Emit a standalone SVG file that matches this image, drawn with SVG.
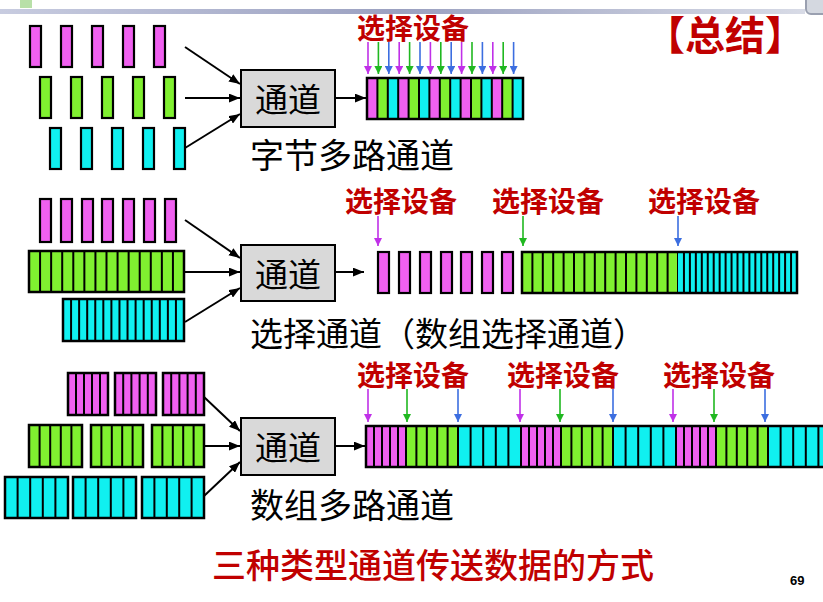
<svg xmlns="http://www.w3.org/2000/svg" width="823" height="602" viewBox="0 0 823 602">
<defs>
<linearGradient id="bar" x1="0" y1="0" x2="1" y2="0">
<stop offset="0" stop-color="#c8cce0"/><stop offset="0.5" stop-color="#9aa0c0"/><stop offset="1" stop-color="#d8dbe6"/>
</linearGradient>
<marker id="ah" viewBox="0 0 10 8" refX="10" refY="4" markerWidth="11" markerHeight="9" markerUnits="userSpaceOnUse" orient="auto"><path d="M0,0 L10,4 L0,8 z" fill="#000"/></marker>
<marker id="amg" viewBox="0 0 8 8" refX="8" refY="4" markerWidth="9" markerHeight="8" markerUnits="userSpaceOnUse" orient="auto"><path d="M0,0 L8,4 L0,8 z" fill="#c030e8"/></marker>
<marker id="agr" viewBox="0 0 8 8" refX="8" refY="4" markerWidth="9" markerHeight="8" markerUnits="userSpaceOnUse" orient="auto"><path d="M0,0 L8,4 L0,8 z" fill="#20b820"/></marker>
<marker id="abl" viewBox="0 0 8 8" refX="8" refY="4" markerWidth="9" markerHeight="8" markerUnits="userSpaceOnUse" orient="auto"><path d="M0,0 L8,4 L0,8 z" fill="#3c6ee0"/></marker>
</defs>
<style>
.m{fill:#f060f0}
.g{fill:#80f030}
.c{fill:#10f0f0}
.bar{stroke:#000;stroke-width:2.2}
.div{stroke:#000;stroke-width:2;fill:none}
.out{fill:none;stroke:#000;stroke-width:2.5}
.box{fill:#d9d9d9;stroke:#000;stroke-width:2}
.con{stroke:#000;stroke-width:2;fill:none;marker-end:url(#ah)}
.pm{stroke:#c030e8;stroke-width:1.6;marker-end:url(#amg)}
.pg{stroke:#20b820;stroke-width:1.6;marker-end:url(#agr)}
.pb{stroke:#3c6ee0;stroke-width:1.6;marker-end:url(#abl)}
.red{font-family:"Noto Sans CJK SC","Noto Sans CJK JP",sans-serif;font-weight:bold;fill:#c00000;font-size:28px}
.lbl{font-family:"Noto Sans CJK SC","Noto Sans CJK JP",sans-serif;fill:#000;font-size:34px}
.bt{font-family:"Noto Sans CJK SC","Noto Sans CJK JP",sans-serif;fill:#000;font-size:33px;text-anchor:middle}
</style>
<rect width="823" height="602" fill="#fff"/>
<!-- top decoration -->
<rect x="0" y="9" width="805" height="5" fill="url(#bar)"/>
<rect x="20" y="0" width="12" height="8" fill="#b8e0a8"/>
<rect x="806" y="-6" width="22" height="20" rx="5" fill="#d4d8e0" stroke="#9aa0b0" stroke-width="2"/>

<text class="red" x="725" y="50" style="font-size:40px;text-anchor:middle">【总结】</text>

<!-- Row 1: byte multiplexer -->
<g id="row1-inputs">
<rect class="m bar" x="30" y="26" width="11" height="41"/><rect class="m bar" x="61" y="26" width="11" height="41"/><rect class="m bar" x="92" y="26" width="11" height="41"/><rect class="m bar" x="123" y="26" width="11" height="41"/><rect class="m bar" x="154" y="26" width="11" height="41"/>
<rect class="g bar" x="40" y="77" width="11" height="41"/><rect class="g bar" x="71" y="77" width="11" height="41"/><rect class="g bar" x="102" y="77" width="11" height="41"/><rect class="g bar" x="133" y="77" width="11" height="41"/><rect class="g bar" x="164" y="77" width="11" height="41"/>
<rect class="c bar" x="50" y="128" width="11" height="41"/><rect class="c bar" x="81" y="128" width="11" height="41"/><rect class="c bar" x="112" y="128" width="11" height="41"/><rect class="c bar" x="143" y="128" width="11" height="41"/><rect class="c bar" x="174" y="128" width="11" height="41"/>
</g>
<g id="row1-channel">
<rect class="box" x="241" y="70" width="94" height="57"/>
<text class="bt" x="288" y="112">通道</text>
</g>
<g id="row1-output">
<rect class="m" x="367" y="78" width="10.4" height="41"/><rect class="g" x="377.4" y="78" width="10.4" height="41"/><rect class="c" x="387.8" y="78" width="10.4" height="41"/>
<rect class="m" x="398.2" y="78" width="10.4" height="41"/><rect class="g" x="408.6" y="78" width="10.4" height="41"/><rect class="c" x="419" y="78" width="10.4" height="41"/>
<rect class="m" x="429.4" y="78" width="10.4" height="41"/><rect class="g" x="439.8" y="78" width="10.4" height="41"/><rect class="c" x="450.2" y="78" width="10.4" height="41"/>
<rect class="m" x="460.6" y="78" width="10.4" height="41"/><rect class="g" x="471" y="78" width="10.4" height="41"/><rect class="c" x="481.4" y="78" width="10.4" height="41"/>
<rect class="m" x="491.8" y="78" width="10.4" height="41"/><rect class="g" x="502.2" y="78" width="10.4" height="41"/><rect class="c" x="512.6" y="78" width="10.4" height="41"/>
<path class="div" d="M377.4 78V119M387.8 78V119M398.2 78V119M408.6 78V119M419 78V119M429.4 78V119M439.8 78V119M450.2 78V119M460.6 78V119M471 78V119M481.4 78V119M491.8 78V119M502.2 78V119M512.6 78V119"/>
<rect class="out" x="367" y="78" width="156" height="41"/>
</g>
<text class="red" x="357" y="39">选择设备</text>
<g id="row1-pointers">
<line class="pm" x1="368" y1="42" x2="368" y2="74"/><line class="pg" x1="378.4" y1="42" x2="378.4" y2="74"/><line class="pb" x1="388.8" y1="42" x2="388.8" y2="74"/>
<line class="pm" x1="399.2" y1="42" x2="399.2" y2="74"/><line class="pg" x1="409.6" y1="42" x2="409.6" y2="74"/><line class="pb" x1="420" y1="42" x2="420" y2="74"/>
<line class="pm" x1="430.4" y1="42" x2="430.4" y2="74"/><line class="pg" x1="440.8" y1="42" x2="440.8" y2="74"/><line class="pb" x1="451.2" y1="42" x2="451.2" y2="74"/>
<line class="pm" x1="461.6" y1="42" x2="461.6" y2="74"/><line class="pg" x1="472" y1="42" x2="472" y2="74"/><line class="pb" x1="482.4" y1="42" x2="482.4" y2="74"/>
<line class="pm" x1="492.8" y1="42" x2="492.8" y2="74"/><line class="pg" x1="503.2" y1="42" x2="503.2" y2="74"/><line class="pb" x1="513.6" y1="42" x2="513.6" y2="74"/>
</g>
<text class="lbl" x="250" y="168">字节多路通道</text>

<!-- Row 2: selector channel -->
<g id="row2-inputs">
<rect class="m bar" x="40" y="199" width="11" height="43"/><rect class="m bar" x="61" y="199" width="11" height="43"/><rect class="m bar" x="82" y="199" width="11" height="43"/><rect class="m bar" x="102" y="199" width="11" height="43"/><rect class="m bar" x="123" y="199" width="11" height="43"/><rect class="m bar" x="144" y="199" width="11" height="43"/><rect class="m bar" x="165" y="199" width="11" height="43"/>
<rect class="g" x="29" y="251" width="155" height="41"/>
<path class="div" d="M40.07 251V292M51.14 251V292M62.21 251V292M73.29 251V292M84.36 251V292M95.43 251V292M106.5 251V292M117.57 251V292M128.64 251V292M139.71 251V292M150.79 251V292M161.86 251V292M172.93 251V292"/>
<rect class="out" x="29" y="251" width="155" height="41"/>
<rect class="c" x="63" y="299" width="121" height="42"/>
<path class="div" d="M71.07 299V341M79.13 299V341M87.2 299V341M95.27 299V341M103.33 299V341M111.4 299V341M119.47 299V341M127.53 299V341M135.6 299V341M143.67 299V341M151.73 299V341M159.8 299V341M167.87 299V341M175.93 299V341"/>
<rect class="out" x="63" y="299" width="121" height="42"/>
</g>
<g id="row2-channel">
<rect class="box" x="241" y="245" width="94" height="56"/>
<text class="bt" x="288" y="287">通道</text>
</g>
<g id="row2-output">
<rect class="m bar" x="378" y="252" width="11" height="41"/><rect class="m bar" x="399" y="252" width="11" height="41"/><rect class="m bar" x="420" y="252" width="11" height="41"/><rect class="m bar" x="441" y="252" width="11" height="41"/><rect class="m bar" x="461" y="252" width="11" height="41"/><rect class="m bar" x="482" y="252" width="11" height="41"/><rect class="m bar" x="502" y="252" width="11" height="41"/>
<rect class="g" x="522" y="252" width="156" height="41"/>
<path class="div" d="M532.4 252V293M542.8 252V293M553.2 252V293M563.6 252V293M574 252V293M584.4 252V293M594.8 252V293M605.2 252V293M615.6 252V293M626 252V293M636.4 252V293M646.8 252V293M657.2 252V293M667.6 252V293M678 252V293"/>
<rect class="c" x="678" y="252" width="119" height="41"/>
<path class="div" d="M683.95 252V293M689.9 252V293M695.85 252V293M701.8 252V293M707.75 252V293M713.7 252V293M719.65 252V293M725.6 252V293M731.55 252V293M737.5 252V293M743.45 252V293M749.4 252V293M755.35 252V293M761.3 252V293M767.25 252V293M773.2 252V293M779.15 252V293M785.1 252V293M791.05 252V293"/>
<rect class="out" x="522" y="252" width="275" height="41"/>
</g>
<text class="red" x="345" y="212">选择设备</text>
<text class="red" x="492" y="212">选择设备</text>
<text class="red" x="648" y="212">选择设备</text>
<g id="row2-pointers">
<line class="pm" x1="378" y1="216" x2="378" y2="246"/>
<line class="pg" x1="523" y1="216" x2="523" y2="246"/>
<line class="pb" x1="678" y1="216" x2="678" y2="246"/>
</g>
<text class="lbl" x="250" y="346" style="font-size:33px">选择通道（数组选择通道）</text>

<!-- Row 3: block multiplexer -->
<g id="row3-inputs">
<rect class="m" x="68" y="373" width="40" height="42"/><rect class="m" x="115" y="373" width="41" height="42"/><rect class="m" x="163" y="373" width="41" height="42"/>
<path class="div" d="M76 373V415M84 373V415M92 373V415M100 373V415M123.2 373V415M131.4 373V415M139.6 373V415M147.8 373V415M171.2 373V415M179.4 373V415M187.6 373V415M195.8 373V415"/>
<rect class="out" x="68" y="373" width="40" height="42"/><rect class="out" x="115" y="373" width="41" height="42"/><rect class="out" x="163" y="373" width="41" height="42"/>
<rect class="g" x="29" y="425" width="53" height="42"/><rect class="g" x="91" y="425" width="52" height="42"/><rect class="g" x="152" y="425" width="52" height="42"/>
<path class="div" d="M39.6 425V467M50.2 425V467M60.8 425V467M71.4 425V467M101.4 425V467M111.8 425V467M122.2 425V467M132.6 425V467M162.4 425V467M172.8 425V467M183.2 425V467M193.6 425V467"/>
<rect class="out" x="29" y="425" width="53" height="42"/><rect class="out" x="91" y="425" width="52" height="42"/><rect class="out" x="152" y="425" width="52" height="42"/>
<rect class="c" x="5" y="477" width="63" height="41"/><rect class="c" x="73" y="477" width="63" height="41"/><rect class="c" x="142" y="477" width="62" height="41"/>
<path class="div" d="M17.6 477V518M30.2 477V518M42.8 477V518M55.4 477V518M85.6 477V518M98.2 477V518M110.8 477V518M123.4 477V518M154.4 477V518M166.8 477V518M179.2 477V518M191.6 477V518"/>
<rect class="out" x="5" y="477" width="63" height="41"/><rect class="out" x="73" y="477" width="63" height="41"/><rect class="out" x="142" y="477" width="62" height="41"/>
</g>
<g id="row3-channel">
<rect class="box" x="241" y="418" width="94" height="57"/>
<text class="bt" x="288" y="460">通道</text>
</g>
<g id="row3-output">
<rect class="m" x="366" y="426" width="40" height="41"/><rect class="g" x="406" y="426" width="52" height="41"/><rect class="c" x="458" y="426" width="63" height="41"/>
<rect class="m" x="521" y="426" width="40" height="41"/><rect class="g" x="561" y="426" width="52" height="41"/><rect class="c" x="613" y="426" width="63" height="41"/>
<rect class="m" x="676" y="426" width="40" height="41"/><rect class="g" x="716" y="426" width="52" height="41"/><rect class="c" x="768" y="426" width="63" height="41"/>
<path class="div" d="M374 426V467M382 426V467M390 426V467M398 426V467M406 426V467M416.4 426V467M426.8 426V467M437.2 426V467M447.6 426V467M458 426V467M470.6 426V467M483.2 426V467M495.8 426V467M508.4 426V467M521 426V467M529 426V467M537 426V467M545 426V467M553 426V467M561 426V467M571.4 426V467M581.8 426V467M592.2 426V467M602.6 426V467M613 426V467M625.6 426V467M638.2 426V467M650.8 426V467M663.4 426V467M676 426V467M684 426V467M692 426V467M700 426V467M708 426V467M716 426V467M726.4 426V467M736.8 426V467M747.2 426V467M757.6 426V467M768 426V467M780.6 426V467M793.2 426V467M805.8 426V467M818.4 426V467"/>
<rect class="out" x="366" y="426" width="470" height="41"/>
</g>
<text class="red" x="357" y="386">选择设备</text>
<text class="red" x="507" y="386">选择设备</text>
<text class="red" x="663" y="386">选择设备</text>
<g id="row3-pointers">
<line class="pm" x1="368" y1="389" x2="368" y2="422"/><line class="pg" x1="407" y1="389" x2="407" y2="422"/><line class="pb" x1="458" y1="389" x2="458" y2="422"/>
<line class="pm" x1="520" y1="389" x2="520" y2="422"/><line class="pg" x1="560" y1="389" x2="560" y2="422"/><line class="pb" x1="613" y1="389" x2="613" y2="422"/>
<line class="pm" x1="673" y1="389" x2="673" y2="422"/><line class="pg" x1="714" y1="389" x2="714" y2="422"/><line class="pb" x1="765" y1="389" x2="765" y2="422"/>
</g>
<text class="lbl" x="250" y="518">数组多路通道</text>

<!-- connectors -->
<g id="connectors">
<line class="con" x1="185" y1="47" x2="240" y2="84"/>
<line class="con" x1="185" y1="98" x2="240" y2="98"/>
<line class="con" x1="185" y1="148" x2="240" y2="114"/>
<line class="con" x1="336" y1="98" x2="366" y2="98"/>
<line class="con" x1="185" y1="220" x2="240" y2="258"/>
<line class="con" x1="185" y1="272" x2="240" y2="272"/>
<line class="con" x1="185" y1="322" x2="240" y2="288"/>
<line class="con" x1="336" y1="272" x2="364" y2="272"/>
<line class="con" x1="204" y1="397" x2="240" y2="431"/>
<line class="con" x1="204" y1="446" x2="240" y2="446"/>
<line class="con" x1="204" y1="496" x2="240" y2="462"/>
<line class="con" x1="336" y1="446" x2="365" y2="446"/>
</g>

<text class="red" x="212" y="578" style="font-size:34px;font-weight:500">三种类型通道传送数据的方式</text>
<text x="790" y="585" style="font-family:'Liberation Sans',Arial,sans-serif;font-weight:bold;font-size:13px;fill:#000">69</text>
</svg>
